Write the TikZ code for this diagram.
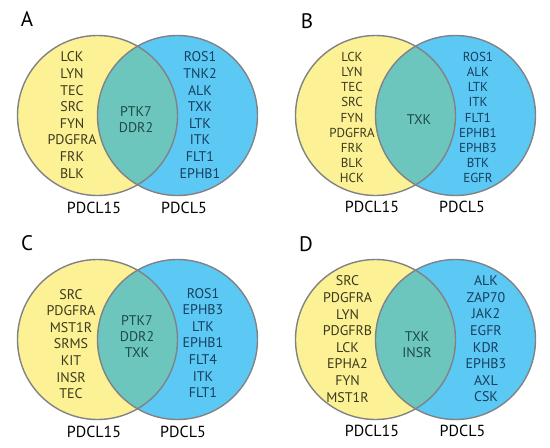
\documentclass[tikz,border=0pt]{standalone}
\usepackage{fontspec}
\setmainfont{PT Sans}
\usepackage{xcolor}
\usepackage{tikz}
\usetikzlibrary{positioning}

\definecolor{vennyellow}{HTML}{FCF195}
\definecolor{vennblue}{HTML}{5CC8F4}
\definecolor{venncore}{HTML}{6DC6BD}
\definecolor{vennedge}{HTML}{808285}
\definecolor{inkleft}{HTML}{3C3A1E}
\definecolor{inkright}{HTML}{173F5F}
\definecolor{inkcore}{HTML}{1E4A48}

% two overlapping circles, shifted by (#1,#2)
\newcommand{\vennpanel}[2]{%
  \begin{scope}[shift={(#1,#2)}]
    \fill[vennyellow] (97.5,115.5) circle[radius=80pt];
    \fill[vennblue] (177.5,115.5) circle[radius=80pt];
    \begin{scope}
      \clip (97.5,115.5) circle[radius=80pt];
      \fill[venncore] (177.5,115.5) circle[radius=80pt];
    \end{scope}
    \draw[ring] (97.5,115.5) circle[radius=80pt];
    \draw[ring] (177.5,115.5) circle[radius=80pt];
  \end{scope}}

\begin{document}
\begin{tikzpicture}[
    x=1pt, y=-1pt,
    ring/.style={draw=vennedge, line width=1.4pt},
    list/.style={align=center, inner sep=0pt, font=\fontsize{14}{16.6}\selectfont},
    tightlist/.style={align=center, inner sep=0pt, font=\fontsize{13}{15.1}\selectfont},
    core/.style={align=center, inner sep=0pt, text=inkcore, font=\fontsize{14}{16}\selectfont},
    cellline/.style={inner sep=0pt, font=\fontsize{16}{18}\selectfont},
    panel/.style={inner sep=0pt, font=\fontsize{21}{24}\selectfont}
]
\fill[white] (0,0) rectangle (550,448);
\useasboundingbox (0,0) rectangle (550,448);

\vennpanel{0}{0}
\vennpanel{278}{0}
\vennpanel{0}{224}
\vennpanel{278}{224}

% A
\node[panel] (Atag) at (27,19) {A};
\node[list, text=inkleft] (A15) at (72,115) {LCK\\LYN\\TEC\\SRC\\FYN\\PDGFRA\\FRK\\BLK};
\node[core] (Aboth) at (136,120) {PTK7\\DDR2};
\node[list, text=inkright] (A5) at (200,115) {ROS1\\TNK2\\ALK\\TXK\\LTK\\ITK\\FLT1\\EPHB1};
\node[cellline] (Acl15) at (94,208) {PDCL15};
\node[cellline] (Acl5) at (184,208) {PDCL5};

% B
\node[panel] (Btag) at (307,21) {B};
\node[tightlist, text=inkleft] (B15) at (352,117.5) {LCK\\LYN\\TEC\\SRC\\FYN\\PDGFRA\\FRK\\BLK\\HCK};
\node[core] (Bboth) at (419,120) {TXK};
\node[tightlist, text=inkright] (B5) at (478,117.5) {ROS1\\ALK\\LTK\\ITK\\FLT1\\EPHB1\\EPHB3\\BTK\\EGFR};
\node[cellline] (Bcl15) at (372,207) {PDCL15};
\node[cellline] (Bcl5) at (462,207) {PDCL5};

% C
\node[panel] (Ctag) at (27,243) {C};
\node[list, text=inkleft] (C15) at (71,344) {SRC\\PDGFRA\\MST1R\\SRMS\\KIT\\INSR\\TEC};
\node[core] (Cboth) at (137,337) {PTK7\\DDR2\\TXK};
\node[list, text=inkright] (C5) at (203,343) {ROS1\\EPHB3\\LTK\\EPHB1\\FLT4\\ITK\\FLT1};
\node[cellline] (Ccl15) at (94,432) {PDCL15};
\node[cellline] (Ccl5) at (183,432) {PDCL5};

% D
\node[panel] (Dtag) at (306,244) {D};
\node[list, text=inkleft] (D15) at (347.5,339) {SRC\\PDGFRA\\LYN\\PDGFRB\\LCK\\EPHA2\\FYN\\MST1R};
\node[core] (Dboth) at (417,344.5) {TXK\\INSR};
\node[list, text=inkright] (D5) at (486,339) {ALK\\ZAP70\\JAK2\\EGFR\\KDR\\EPHB3\\AXL\\CSK};
\node[cellline] (Dcl15) at (372,431) {PDCL15};
\node[cellline] (Dcl5) at (462.5,431) {PDCL5};
\end{tikzpicture}
\end{document}
